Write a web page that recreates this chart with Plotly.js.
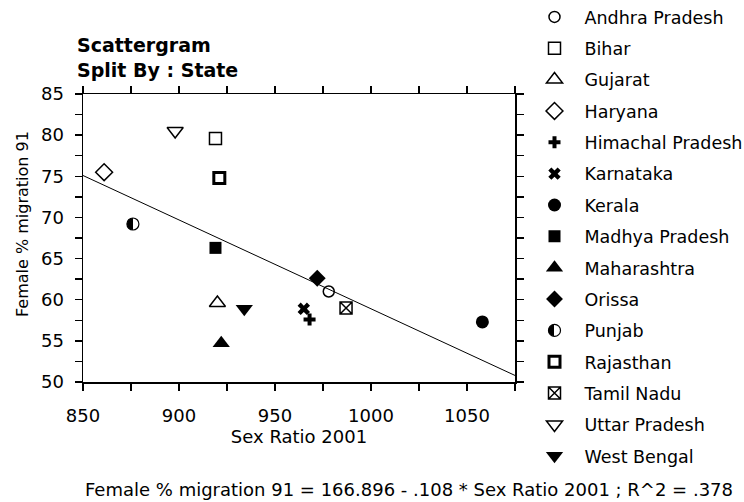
<!DOCTYPE html>
<html><head><meta charset="utf-8">
<script src="https://cdn.plot.ly/plotly-3.0.1.min.js"></script>
<style>html,body{margin:0;padding:0;background:#fff}#chart{width:744px;height:502px}</style>
</head><body><div id="chart"></div>
<script>
const states = ["Andhra Pradesh","Bihar","Gujarat","Haryana","Himachal Pradesh","Karnataka","Kerala","Madhya Pradesh","Maharashtra","Orissa","Punjab","Rajasthan","Tamil Nadu","Uttar Pradesh","West Bengal"];
const sexRatio2001 = [978, 919, 920, 861, 968, 965, 1058, 919, 922, 972, 876, 921, 987, 898, 934];
const femaleMigration91 = [61.0, 79.6, 59.6, 75.5, 57.6, 58.9, 57.3, 66.3, 54.7, 62.6, 69.2, 74.8, 59.0, 80.5, 58.9];
const fitIntercept = 166.896;
const fitSlope = -0.108;
const fitR2 = 0.378;
const xTickVals = [850, 875, 900, 925, 950, 975, 1000, 1025, 1050, 1075];
const xTickText = ["850", "", "900", "", "950", "", "1000", "", "1050", ""];
const yTickVals = [50, 52.5, 55, 57.5, 60, 62.5, 65, 67.5, 70, 72.5, 75, 77.5, 80, 82.5, 85];
const yTickText = ["50", "", "55", "", "60", "", "65", "", "70", "", "75", "", "80", "", "85"];
const xTitle = "Sex Ratio 2001";
const yTitle = "Female % migration 91";

const FONT = "DejaVu Sans, Verdana, sans-serif";
const markerStyle = {
  "Andhra Pradesh": {symbol: "circle-open", size: 11, lw: 1.5},
  "Bihar": {symbol: "square-open", size: 12, lw: 1.5},
  "Gujarat": {symbol: "triangle-up-open", size: 14, lw: 1.5},
  "Haryana": {symbol: "diamond-open", size: 13, lw: 1.5},
  "Himachal Pradesh": {symbol: "cross", size: 10, lw: 0},
  "Karnataka": {symbol: "x", size: 11, lw: 0},
  "Kerala": {symbol: "circle", size: 13, lw: 0},
  "Madhya Pradesh": {symbol: "square", size: 12, lw: 0},
  "Maharashtra": {symbol: "triangle-up", size: 15, lw: 0},
  "Orissa": {symbol: "diamond", size: 13, lw: 0},
  "Punjab": {symbol: "circle", size: 12, lw: 1.2, gradient: true},
  "Rajasthan": {symbol: "square-open", size: 11, lw: 3},
  "Tamil Nadu": {symbol: "square-x-open", size: 12, lw: 1.5},
  "Uttar Pradesh": {symbol: "triangle-down-open", size: 14, lw: 1.5},
  "West Bengal": {symbol: "triangle-down", size: 15, lw: 0}
};

const traces = states.map((s, i) => {
  const st = markerStyle[s];
  const m = {symbol: st.symbol, size: st.size, color: "black", line: {color: "black", width: st.lw}};
  if (st.gradient) m.gradient = {type: "horizontal", color: "white"};
  return {
    type: "scatter", mode: "markers", name: s, legendgroup: s,
    x: [sexRatio2001[i]], y: [femaleMigration91[i]],
    marker: m, cliponaxis: false
  };
});

const xLo = xTickVals[0], xHi = xTickVals[xTickVals.length - 1];
traces.push({
  type: "scatter", mode: "lines", showlegend: false, hoverinfo: "skip",
  x: [xLo, xHi], y: [fitIntercept + fitSlope * xLo, fitIntercept + fitSlope * xHi],
  line: {color: "black", width: 1}
});

const axisCommon = {
  showgrid: false, zeroline: false, showline: true, linecolor: "black", linewidth: 1.5,
  mirror: "ticks", ticks: "outside", ticklen: 7, tickwidth: 1.5, tickcolor: "black",
  tickmode: "array", tickfont: {family: FONT, size: 18, color: "black"}
};

const layout = {
  width: 744, height: 502,
  paper_bgcolor: "white", plot_bgcolor: "white",
  margin: {l: 83, r: 229, t: 94, b: 120, autoexpand: false},
  font: {family: FONT, color: "black"},
  title: {
    text: "<b>Scattergram<br>Split By : State</b>",
    font: {family: FONT, size: 19, color: "black"},
    x: 77 / 744, xanchor: "left", xref: "container",
    y: 1 - 52 / 502, yanchor: "top", yref: "container"
  },
  xaxis: Object.assign({}, axisCommon, {
    range: [xLo, xHi], tickvals: xTickVals, ticktext: xTickText,
    ticklabelstandoff: 10,
    title: {text: xTitle, font: {family: FONT, size: 18, color: "black"}, standoff: 4}
  }),
  yaxis: Object.assign({}, axisCommon, {
    range: [yTickVals[0], yTickVals[yTickVals.length - 1]], tickvals: yTickVals, ticktext: yTickText,
    ticklabelstandoff: 7
  }),
  showlegend: true,
  legend: {
    x: (524.5 - 83) / 432, xanchor: "left", y: (382 + 1) / 288, yanchor: "top",
    maxheight: 600, itemwidth: 50,
    font: {family: FONT, size: 17.5, color: "black"},
    tracegroupgap: 5.6, bgcolor: "rgba(0,0,0,0)", itemclick: false
  },
  annotations: [{
    xref: "paper", yref: "paper", x: (409 - 83) / 432, y: (382 - 489) / 288,
    xanchor: "center", yanchor: "middle", showarrow: false,
    text: "Female % migration 91 = " + fitIntercept.toFixed(3) + " - " + String(Math.abs(fitSlope)).replace(/^0/, "") +
      " * Sex Ratio 2001 ; R^2 = " + String(fitR2).replace(/^0/, ""),
    font: {family: FONT, size: 18, color: "black"}
  }, {
    xref: "paper", yref: "paper", x: (22 - 83) / 432, y: (382 - 224) / 288,
    xanchor: "center", yanchor: "middle", showarrow: false, textangle: -90,
    text: yTitle,
    font: {family: FONT, size: 16, color: "black"}
  }]
};

Plotly.newPlot("chart", traces, layout, {staticPlot: true}).then(() => {
  document.querySelectorAll("#chart linearGradient").forEach(g => {
    while (g.firstChild) g.removeChild(g.firstChild);
    [[0, "white"], [0.5, "white"], [0.5, "black"], [1, "black"]].forEach(([o, c]) => {
      const s = document.createElementNS("http://www.w3.org/2000/svg", "stop");
      s.setAttribute("offset", o);
      s.setAttribute("stop-color", c);
      g.appendChild(s);
    });
  });
});
</script>
</body></html>
